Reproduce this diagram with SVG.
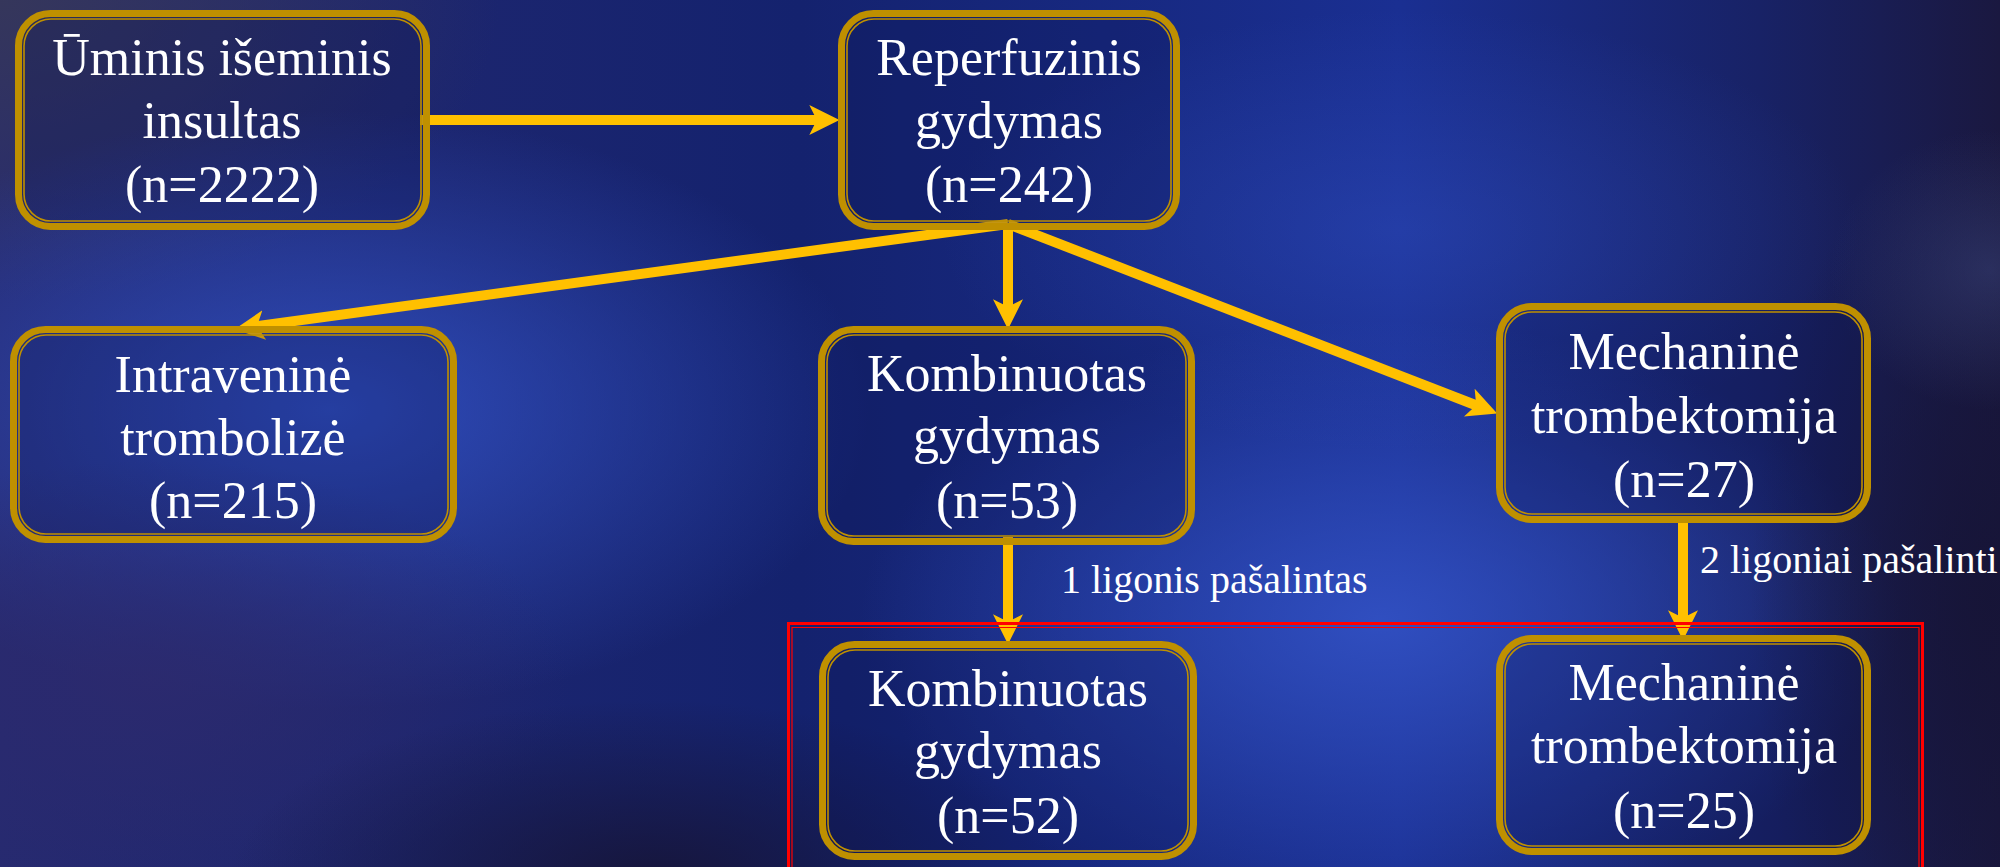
<svg xmlns="http://www.w3.org/2000/svg" width="2000" height="867" viewBox="0 0 2000 867">
<defs>
<linearGradient id="bgbase" x1="0" y1="0" x2="1" y2="0">
<stop offset="0" stop-color="#262a70"/>
<stop offset="0.4" stop-color="#14226e"/>
<stop offset="0.7" stop-color="#1a2f92"/>
<stop offset="0.88" stop-color="#182266"/>
<stop offset="1" stop-color="#1a1840"/>
</linearGradient>
<radialGradient id="glow1" cx="0.5" cy="0.5" r="0.5">
<stop offset="0" stop-color="#3050c4" stop-opacity="0.9"/>
<stop offset="1" stop-color="#3050c4" stop-opacity="0"/>
</radialGradient>
<radialGradient id="glow2" cx="0.5" cy="0.5" r="0.5">
<stop offset="0" stop-color="#3454c8" stop-opacity="0.85"/>
<stop offset="1" stop-color="#3454c8" stop-opacity="0"/>
</radialGradient>
<radialGradient id="grayTL" cx="0.5" cy="0.5" r="0.5">
<stop offset="0" stop-color="#36375a" stop-opacity="0.95"/>
<stop offset="1" stop-color="#36375a" stop-opacity="0"/>
</radialGradient>
<radialGradient id="purpleBL" cx="0.5" cy="0.5" r="0.5">
<stop offset="0" stop-color="#2c2a6e" stop-opacity="0.9"/>
<stop offset="1" stop-color="#2c2a6e" stop-opacity="0"/>
</radialGradient>
<radialGradient id="darkR" cx="0.5" cy="0.5" r="0.5">
<stop offset="0" stop-color="#161436" stop-opacity="0.9"/>
<stop offset="1" stop-color="#161436" stop-opacity="0"/>
</radialGradient>
<radialGradient id="lightTR" cx="0.5" cy="0.5" r="0.5">
<stop offset="0" stop-color="#4a5a98" stop-opacity="0.35"/>
<stop offset="1" stop-color="#4a5a98" stop-opacity="0"/>
</radialGradient>
<marker id="arrow" markerUnits="userSpaceOnUse" markerWidth="30" markerHeight="30" refX="10" refY="14" orient="auto" viewBox="0 0 28 28">
<path d="M0,0 L28,14 L0,28 L7,14 Z" fill="#FFC000"/>
</marker>
<style>
.outer{fill:#0c1450;fill-opacity:0.25;stroke:#BF9000;stroke-width:7}
.inner{fill:none;stroke:#BF9000;stroke-width:1.6}
.t{font-family:"Liberation Serif","Times New Roman",serif;font-size:52px;fill:#ffffff;text-anchor:middle}
.lbl{font-family:"Liberation Serif","Times New Roman",serif;font-size:40px;fill:#ffffff}
.con{stroke:#FFC000;stroke-width:10;fill:none;marker-end:url(#arrow)}
</style>
</defs>
<g id="background">
<rect x="0" y="0" width="2000" height="867" fill="url(#bgbase)"/>
<ellipse cx="0" cy="0" rx="500" ry="300" fill="url(#grayTL)"/>
<ellipse cx="330" cy="410" rx="540" ry="300" fill="url(#glow1)"/>
<ellipse cx="1380" cy="620" rx="520" ry="300" fill="url(#glow2)"/>
<ellipse cx="1400" cy="230" rx="460" ry="220" fill="url(#glow2)" opacity="0.45"/>
<ellipse cx="150" cy="680" rx="420" ry="220" fill="url(#purpleBL)"/>
<ellipse cx="650" cy="880" rx="420" ry="180" fill="url(#darkR)"/>
<ellipse cx="1990" cy="600" rx="240" ry="480" fill="url(#darkR)"/>
<ellipse cx="1990" cy="270" rx="160" ry="140" fill="url(#lightTR)"/>
</g>
<g id="connectors">
<path class="con" d="M420,120 L820,120"/>
<path class="con" d="M1008,224 L253.8,326.6"/>
<path class="con" d="M1008,224 L1008,310"/>
<path class="con" d="M1008,224 L1479.2,406.5"/>
<path class="con" d="M1008,537 L1008,625"/>
<path class="con" d="M1683,523 L1683,621"/>
</g>
<g id="node-uminis">
<rect class="outer" x="18.5" y="13.5" width="408" height="213" rx="32"/>
<rect class="inner" x="24" y="19" width="397" height="202" rx="27"/>
<text class="t" x="222" y="75">Ūminis išeminis</text>
<text class="t" x="222" y="138">insultas</text>
<text class="t" x="222" y="202">(n=2222)</text>
</g>
<g id="node-reperfuzinis">
<rect class="outer" x="841.5" y="13.5" width="335" height="213" rx="32"/>
<rect class="inner" x="847" y="19" width="324" height="202" rx="27"/>
<text class="t" x="1009" y="75">Reperfuzinis</text>
<text class="t" x="1009" y="138">gydymas</text>
<text class="t" x="1009" y="202">(n=242)</text>
</g>
<g id="node-intravenine">
<rect class="outer" x="13.5" y="329.5" width="440" height="210" rx="32"/>
<rect class="inner" x="19" y="335" width="429" height="199" rx="27"/>
<text class="t" x="233" y="392">Intraveninė</text>
<text class="t" x="233" y="455">trombolizė</text>
<text class="t" x="233" y="518">(n=215)</text>
</g>
<g id="node-kombinuotas53">
<rect class="outer" x="821.5" y="329.5" width="370" height="212" rx="32"/>
<rect class="inner" x="827" y="335" width="359" height="201" rx="27"/>
<text class="t" x="1007" y="391">Kombinuotas</text>
<text class="t" x="1007" y="453">gydymas</text>
<text class="t" x="1007" y="518">(n=53)</text>
</g>
<g id="node-mechanine27">
<rect class="outer" x="1499.5" y="306.5" width="368" height="213" rx="32"/>
<rect class="inner" x="1505" y="312" width="357" height="202" rx="27"/>
<text class="t" x="1684" y="369">Mechaninė</text>
<text class="t" x="1684" y="433">trombektomija</text>
<text class="t" x="1684" y="497">(n=27)</text>
</g>
<g id="node-kombinuotas52">
<rect class="outer" x="822.5" y="644.5" width="371" height="212" rx="32"/>
<rect class="inner" x="828" y="650" width="360" height="201" rx="27"/>
<text class="t" x="1008" y="706">Kombinuotas</text>
<text class="t" x="1008" y="768">gydymas</text>
<text class="t" x="1008" y="833">(n=52)</text>
</g>
<g id="node-mechanine25">
<rect class="outer" x="1499.5" y="638.5" width="368" height="213" rx="32"/>
<rect class="inner" x="1505" y="644" width="357" height="202" rx="27"/>
<text class="t" x="1684" y="700">Mechaninė</text>
<text class="t" x="1684" y="763">trombektomija</text>
<text class="t" x="1684" y="828">(n=25)</text>
</g>
<g id="labels">
<text class="lbl" x="1061" y="593">1 ligonis pašalintas</text>
<text class="lbl" x="1700" y="573">2 ligoniai pašalinti</text>
</g>
<g id="highlight-frame">
<path d="M788.5,890 L788.5,623.5 L1922.5,623.5 L1922.5,890" fill="none" stroke="#FF0000" stroke-width="3"/>
<path d="M792,890 L792,627.5 L1919,627.5 L1919,890" fill="none" stroke="#FF0000" stroke-width="1.2"/>
</g>
</svg>
